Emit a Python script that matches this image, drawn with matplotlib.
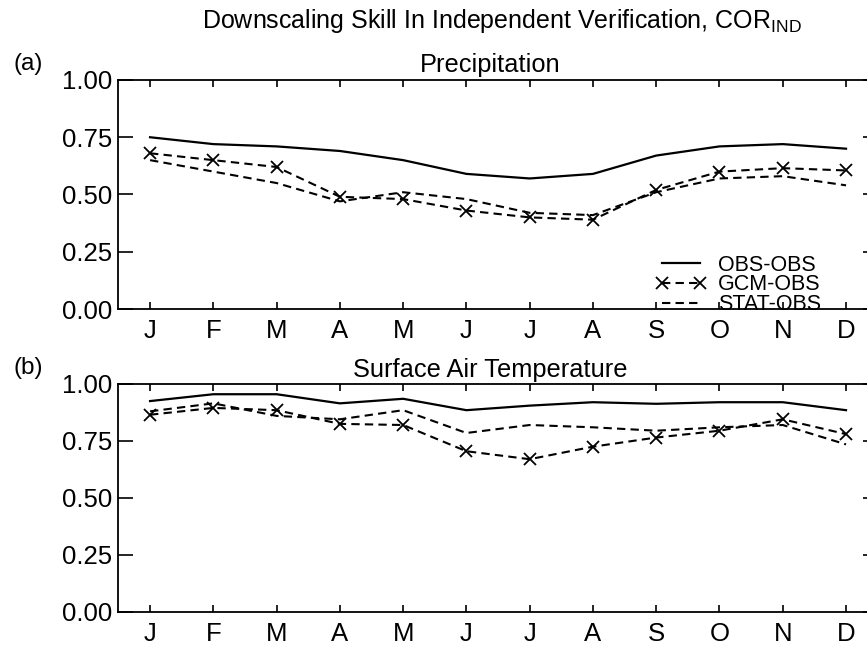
import matplotlib
matplotlib.use("Agg")
import matplotlib.pyplot as plt

plt.rcParams['font.family'] = ['Liberation Sans', 'DejaVu Sans']
plt.rcParams['mathtext.fontset'] = 'custom'
plt.rcParams['mathtext.rm'] = 'Liberation Sans'

# month labels and skill values
months = ['J', 'F', 'M', 'A', 'M', 'J', 'J', 'A', 'S', 'O', 'N', 'D']
month_pos = list(range(1, 13))
yticks = [0.0, 0.25, 0.5, 0.75, 1.0]

# (a) precipitation
prcp_obs = [0.75, 0.72, 0.71, 0.69, 0.65, 0.59, 0.57, 0.59, 0.67, 0.71, 0.72, 0.70]
prcp_gcm = [0.68, 0.65, 0.62, 0.49, 0.48, 0.43, 0.40, 0.39, 0.52, 0.60, 0.615, 0.605]
prcp_stat = [0.65, 0.60, 0.55, 0.47, 0.51, 0.48, 0.42, 0.41, 0.51, 0.57, 0.58, 0.54]

# (b) surface air temperature
temp_obs = [0.925, 0.955, 0.955, 0.915, 0.935, 0.885, 0.905, 0.92, 0.913, 0.92, 0.92, 0.885]
temp_gcm = [0.865, 0.895, 0.885, 0.825, 0.82, 0.705, 0.67, 0.725, 0.765, 0.795, 0.845, 0.78]
temp_stat = [0.88, 0.915, 0.86, 0.845, 0.885, 0.785, 0.82, 0.81, 0.795, 0.81, 0.82, 0.735]

fig = plt.figure(figsize=(8.67, 6.45), dpi=100)

# axes run a bit past the right edge, like the cropped original
ax1 = fig.add_axes([0.1366, 0.5209, 0.8757, 0.3551])
ax2 = fig.add_axes([0.1366, 0.0512, 0.8757, 0.3535])

dash = (4, 2.5)
panels = [(ax1, prcp_obs, prcp_gcm, prcp_stat, 'Precipitation', '(a)', 0.901, 6),
          (ax2, temp_obs, temp_gcm, temp_stat, 'Surface Air Temperature', '(b)', 0.430, 5)]

for ax, obs, gcm, stat, title, tag, tag_y, tpad in panels:
    ax.plot(month_pos, obs, color='black', lw=1.6, label='OBS-OBS')
    ax.plot(month_pos, gcm, color='black', lw=1.5, dashes=dash,
            marker='x', markersize=9, mew=1.3, label='GCM-OBS')
    ax.plot(month_pos, stat, color='black', lw=1.5, dashes=dash, label='STAT-OBS')

    ax.set_xlim(0.5, 12.5)
    ax.set_ylim(0, 1)
    ax.set_xticks(month_pos)
    ax.set_xticklabels(months)
    ax.set_yticks(yticks)
    ax.set_yticklabels(['%.2f' % v for v in yticks])
    ax.tick_params(axis='x', direction='in', length=5, width=1.2,
                   top=True, labelsize=18.5, pad=7)
    ax.tick_params(axis='y', direction='in', length=11, width=1.2,
                   right=True, labelsize=18.5, pad=4.5)
    for sp in ax.spines.values():
        sp.set_linewidth(1.3)
    ax.set_title(title, fontsize=18.3, pad=tpad, x=0.49)
    fig.text(0.016, tag_y, tag, fontsize=17.5, ha='left', va='center')

ax1.legend(loc='center left', bbox_to_anchor=(0.7068, 0.105), frameon=False,
           fontsize=15.5, numpoints=2, handlelength=2.4, handletextpad=0.52,
           labelspacing=-0.06, borderpad=0, borderaxespad=0)

fig.text(0.579, 0.968, r'Downscaling Skill In Independent Verification, COR$_{\mathrm{IND}}$',
         fontsize=18, ha='center', va='center')

fig.savefig('out.png', dpi=100)
